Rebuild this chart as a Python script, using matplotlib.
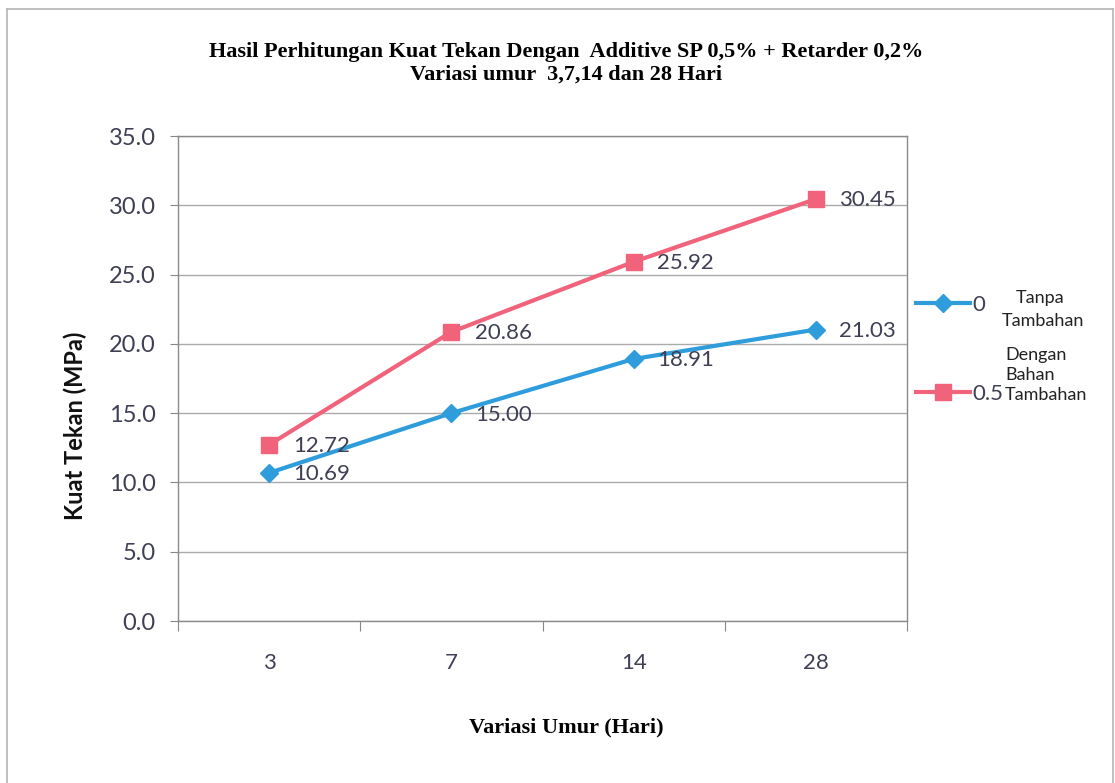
import matplotlib.pyplot as plt
from matplotlib.lines import Line2D

# data: compressive strength per curing age
umur = ["3", "7", "14", "28"]
tanpa_tambahan = [10.69, 15.00, 18.91, 21.03]
dengan_tambahan = [12.72, 20.86, 25.92, 30.45]
nama_seri = ["0", "0.5"]
y_ticks = [0, 5, 10, 15, 20, 25, 30, 35]

BLUE = "#2f9ddc"
PINK = "#f0637a"
TXT = "#3f3f55"
GRID = "#ababab"

W, H = 1115, 783
fig = plt.figure(figsize=(W / 100, H / 100), dpi=100)
ax = fig.add_axes([178 / W, 1 - 621 / H, 729 / W, 485 / H])

x = list(range(len(umur)))
ax.plot(x, tanpa_tambahan, color=BLUE, lw=3, marker="D", ms=9,
        label=nama_seri[0], zorder=3)
ax.plot(x, dengan_tambahan, color=PINK, lw=3, marker="s", ms=12,
        label=nama_seri[1], zorder=3)

# value labels to the right of each point
for serie in (tanpa_tambahan, dengan_tambahan):
    for xi, v in zip(x, serie):
        ax.annotate(f"{v:.2f}", (xi, v), xytext=(17, -1), textcoords="offset points",
                    va="center", ha="left", fontsize=16, color=TXT, family="Lato")

ax.set_xlim(-0.5, len(umur) - 0.5)
ax.set_ylim(0, 35)
ax.set_yticks(y_ticks)
ax.set_yticklabels([f"{t:.1f}" for t in y_ticks])
ax.yaxis.grid(True, color=GRID, lw=1)
ax.set_axisbelow(True)

# category labels in the middle, tick marks on the boundaries
ax.set_xticks([i - 0.5 for i in range(len(umur) + 1)])
ax.set_xticklabels([])
ax.set_xticks(x, minor=True)
ax.set_xticklabels(umur, minor=True)
ax.tick_params(axis="x", which="major", length=7, color="#888888", direction="out")
ax.tick_params(axis="x", which="minor", length=0, pad=23, labelsize=16, labelcolor=TXT)
ax.tick_params(axis="y", length=6, color="#888888", pad=10, labelsize=17, labelcolor=TXT)
for lab in ax.get_xticklabels(minor=True) + ax.get_yticklabels():
    lab.set_family("Lato")

for s in ax.spines.values():
    s.set_color("#8a8a8a")
    s.set_linewidth(1)

ax.set_ylabel("Kuat Tekan (MPa)", fontsize=17, fontweight="bold", color="#111111",
              family="Lato", va="center")
ax.yaxis.set_label_coords((75 - 178) / 729, (621 - 426) / 485)
ax.set_xlabel("Variasi Umur (Hari)", fontsize=16, fontweight="bold",
              family="Liberation Serif", va="center")
ax.xaxis.set_label_coords((566 - 178) / 729, (621 - 727) / 485)

fig.text(566 / W, 1 - 52 / H, "Hasil Perhitungan Kuat Tekan Dengan  Additive SP 0,5% + Retarder 0,2%",
         ha="center", va="center", fontsize=16, fontweight="bold", family="Liberation Serif")
fig.text(566 / W, 1 - 75 / H, "Variasi umur  3,7,14 dan 28 Hari",
         ha="center", va="center", fontsize=16, fontweight="bold", family="Liberation Serif")

leg = ax.legend(loc="upper left", bbox_to_anchor=(916 / W, 1 - 295 / H),
                bbox_transform=fig.transFigure, frameon=False, handlelength=2.45,
                handletextpad=0.1, labelspacing=3.1, borderaxespad=0, borderpad=0,
                prop={"family": "Lato", "size": 16})
for t in leg.get_texts():
    t.set_color(TXT)

fig.text(1040 / W, 1 - 298 / H, "Tanpa", ha="center", va="center",
         fontsize=13, family="Lato", color="#222222")
fig.text(1002 / W, 1 - 321 / H, "Tambahan", ha="left", va="center",
         fontsize=13, family="Lato", color="#222222")
fig.text(1005 / W, 1 - 375 / H, "Dengan\nBahan\nTambahan", ha="left", va="center",
         fontsize=13, family="Lato", color="#222222", linespacing=1.3)

# chart frame
frame_kw = dict(color="#b4b4b4", lw=1.2, transform=fig.transFigure)
fig.add_artist(Line2D([7 / W, 7 / W], [0, 1 - 9 / H], **frame_kw))
fig.add_artist(Line2D([7 / W, 1113 / W], [1 - 9 / H, 1 - 9 / H], **frame_kw))
fig.add_artist(Line2D([1113 / W, 1113 / W], [0, 1 - 9 / H], **frame_kw))

fig.savefig("out.png", dpi=100)
